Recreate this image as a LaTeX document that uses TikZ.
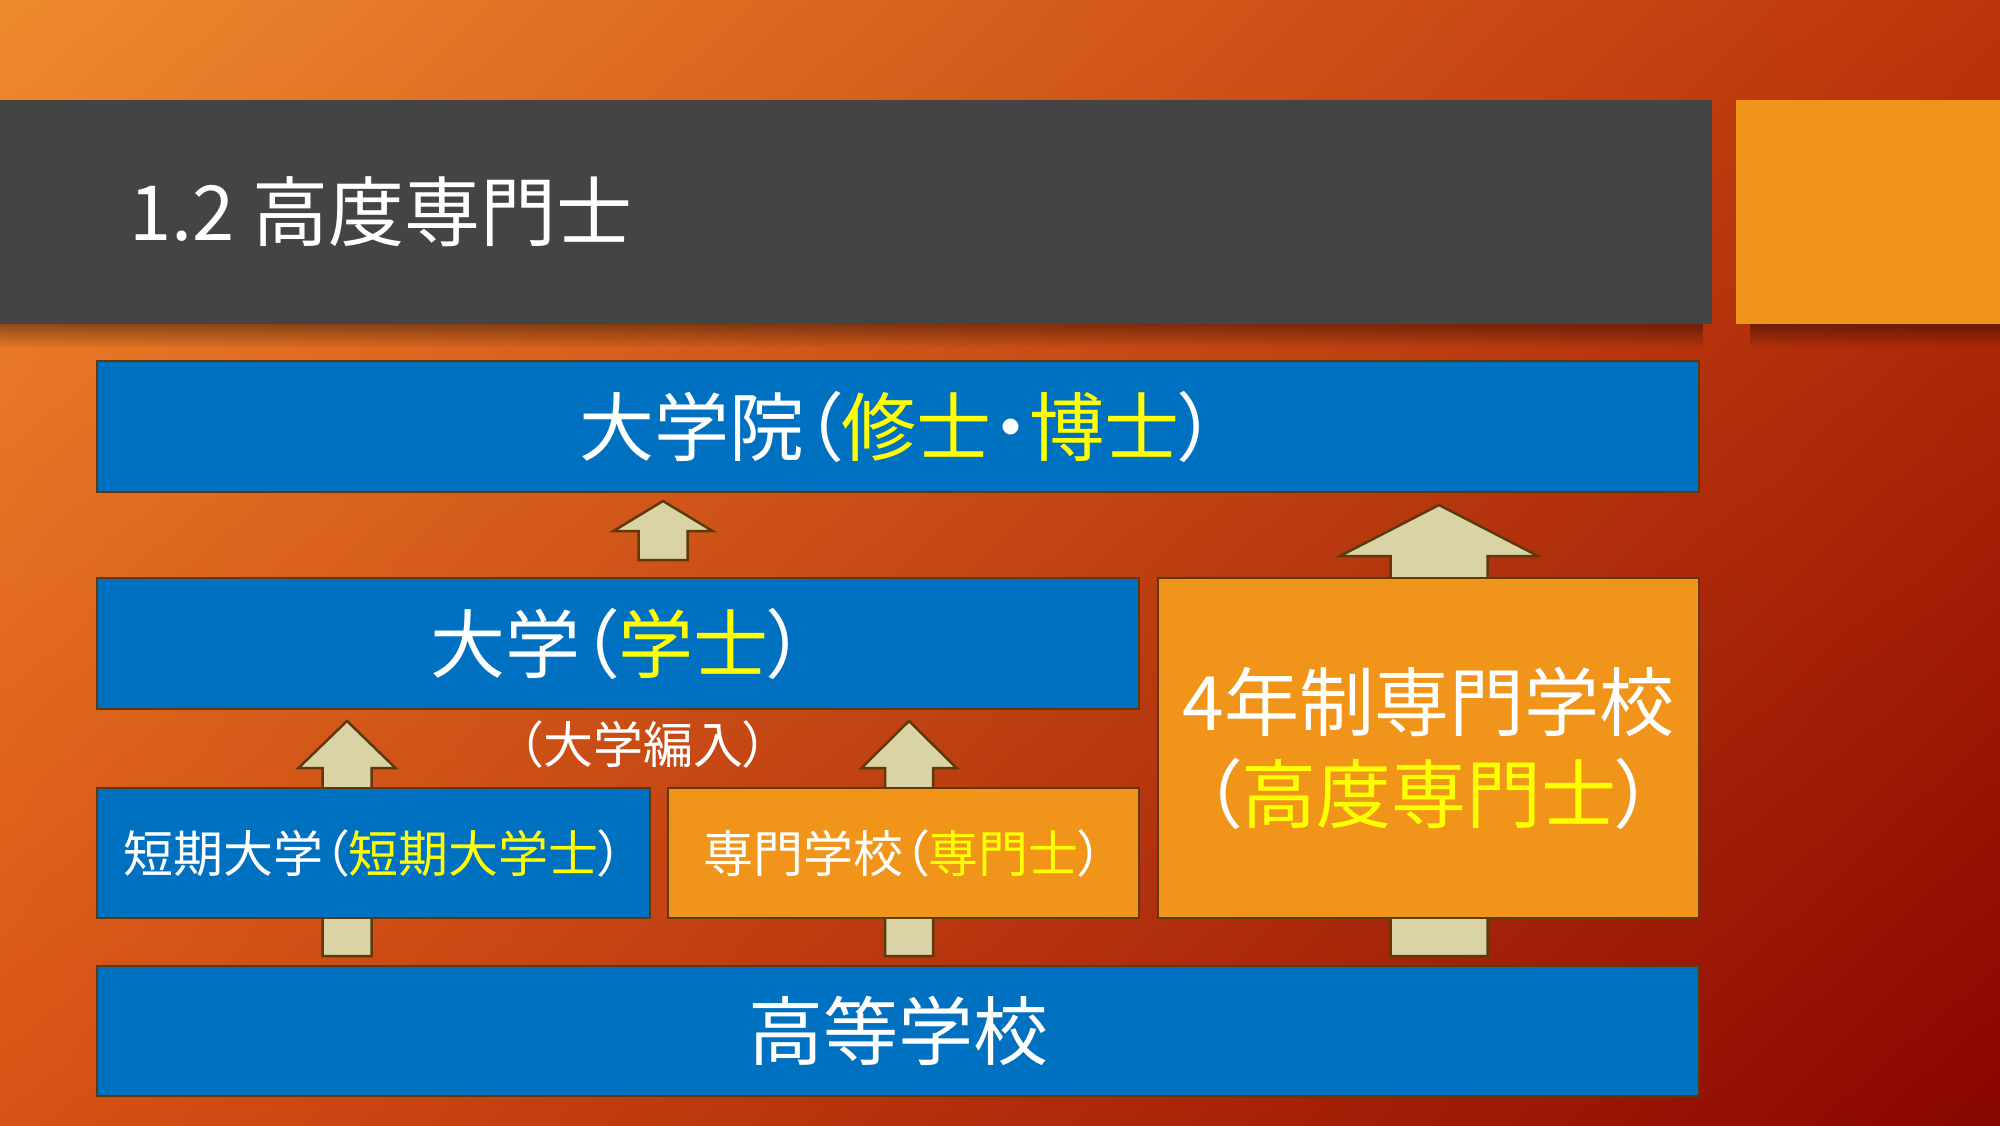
\documentclass[tikz,border=0pt]{standalone}
\usepackage{fontspec}
\newfontfamily\jp[RawFeature=+palt]{Noto Sans CJK JP}
\usetikzlibrary{fadings,shadings}
\definecolor{bgTL}{HTML}{EF8A2E}
\definecolor{bgTR}{HTML}{BC340B}
\definecolor{bgBL}{HTML}{D85215}
\definecolor{bgBR}{HTML}{870600}
\definecolor{titlegray}{HTML}{444444}
\definecolor{boxblue}{HTML}{0070C0}
\definecolor{boxorange}{HTML}{F0951A}
\definecolor{brd}{HTML}{5E3A0B}
\definecolor{arrowfill}{HTML}{D9D3A6}
\definecolor{yel}{HTML}{FFFF00}
\newcommand{\blockup}[6]{%
  \draw[uparrow] ({#1-#6},{#2}) -- ({#1-#6},{#3}) -- ({#1-#5},{#3}) -- ({#1},{#4})
    -- ({#1+#5},{#3}) -- ({#1+#6},{#3}) -- ({#1+#6},{#2}) -- cycle;}
\tikzset{
  bluebox/.style={draw=brd, line width=2.5pt, fill=boxblue, inner sep=0pt, text=white},
  orangebox/.style={draw=brd, line width=2.5pt, fill=boxorange, inner sep=0pt, text=white},
  bigtxt/.style={font=\jp\fontsize{75}{92}\selectfont},
  smalltxt/.style={font=\jp\fontsize{50}{60}\selectfont},
  uparrow/.style={draw=brd, line width=2.5pt, fill=arrowfill, line join=miter}
}
\begin{document}
\begin{tikzpicture}[x=1pt,y=-1pt]
\useasboundingbox (0,0) rectangle (2000,1125);
% background
\shade[upper left=bgTL, upper right=bgTR, lower left=bgBL, lower right=bgBR] (0,0) rectangle (2000,1125);
% shadows of title bar
\fill[black, opacity=0.38, path fading=south] (0,324) rectangle (1712,348);
\fill[black, opacity=0.38, path fading=south] (1750,324) rectangle (2000,348);
% title bar and accent square
\fill[titlegray] (0,100) rectangle (1712,324);
\fill[boxorange] (1736,100) rectangle (2000,324);
\node[anchor=west, text=white, font=\jp\fontsize{76}{90}\selectfont] (title) at (126,212) {1.2 高度専門士};
% block arrows (behind the boxes)
\blockup{663}{560}{531}{501}{49.5}{24.5}
\blockup{347}{956}{768}{721}{48.5}{24.5}
\blockup{909}{956}{768}{721}{47.5}{24}
\blockup{1439}{956}{556}{505}{99}{48.5}
% boxes
\node[bluebox, bigtxt, minimum width=1602pt, minimum height=131pt] (grad) at (898,426.5)
  {大学院（\textcolor{yel}{修士}・\textcolor{yel}{博士}）};
\node[bluebox, bigtxt, minimum width=1042pt, minimum height=131pt] (univ) at (618,643.5)
  {大学（\textcolor{yel}{学士}）};
\node[bluebox, smalltxt, minimum width=553pt, minimum height=130pt] (junior) at (373.5,853)
  {短期大学（\textcolor{yel}{短期大学士}）};
\node[orangebox, smalltxt, minimum width=471pt, minimum height=130pt] (senmon) at (903.5,853)
  {専門学校（\textcolor{yel}{専門士}）};
\node[orangebox, bigtxt, align=center, minimum width=541pt, minimum height=340pt] (four) at (1428.5,748)
  {4年制専門学校\\（\textcolor{yel}{高度専門士}）};
\node[bluebox, bigtxt, minimum width=1602pt, minimum height=130pt] (high) at (898,1031)
  {高等学校};
\node[text=white, smalltxt] (transfer) at (643,744) {（大学編入）};
\end{tikzpicture}
\end{document}
